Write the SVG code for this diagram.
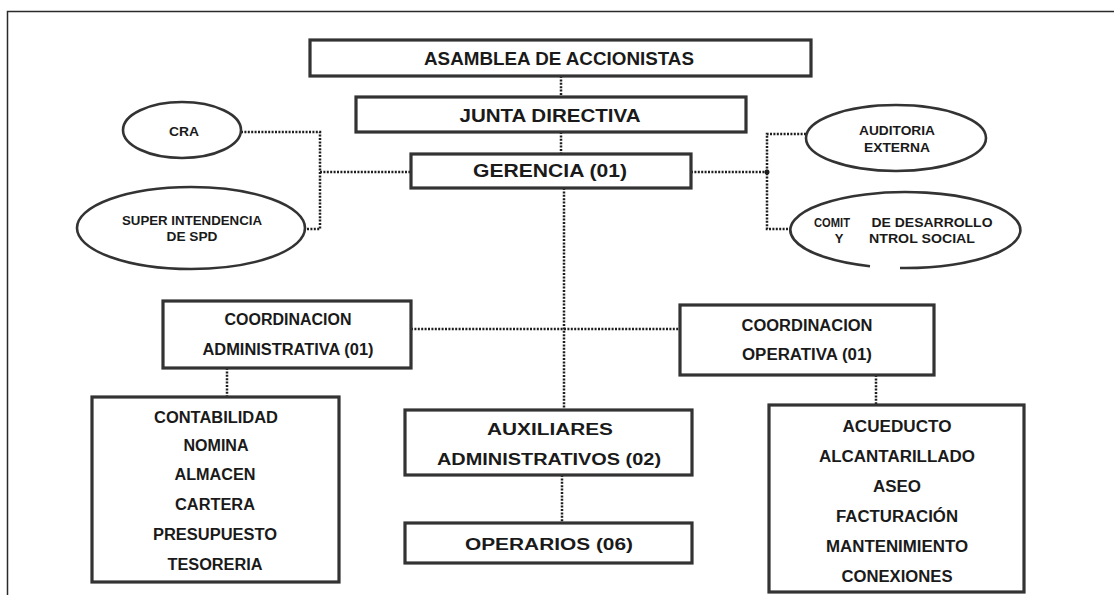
<svg xmlns="http://www.w3.org/2000/svg" width="1114" height="595" viewBox="0 0 1114 595">
<style>
.box{fill:none;stroke:#333333;stroke-width:3.2}
.ell{fill:none;stroke:#333333;stroke-width:2.6}
.con{fill:none;stroke:#1e1e1e;stroke-width:2.5;stroke-dasharray:2 1.4}
.t{font-family:"Liberation Sans",Arial,sans-serif;font-weight:bold;fill:#1a1a1a;text-anchor:middle}
.l{font-size:18px}
.m{font-size:16px}
.s{font-size:13px}
</style>
<rect width="1114" height="595" fill="#ffffff"/>
<path d="M7.5 595 V11.5 H1114" fill="none" stroke="#2a2a2a" stroke-width="1.5"/>
<g id="connectors">
<path class="con" d="M561 76 V97"/>
<path class="con" d="M561 132 V154"/>
<path class="con" d="M564 188 V410"/>
<path class="con" d="M562 475 V523"/>
<path class="con" d="M241 132 H320 V229 H305"/>
<path class="con" d="M320 172 H411"/>
<path class="con" d="M691 172 H767"/>
<path class="con" d="M806 134 H767 V229 H790"/>
<circle cx="767" cy="172" r="2.5" fill="#1e1e1e"/>
<path class="con" d="M411 329 H680"/>
<path class="con" d="M227 368 V397"/>
<path class="con" d="M876 375 V405"/>
</g>
<g id="asamblea">
<rect class="box" x="310" y="40" width="501" height="36"/>
<text class="t l" x="559" y="65" textLength="270" lengthAdjust="spacingAndGlyphs">ASAMBLEA DE ACCIONISTAS</text>
</g>
<g id="junta">
<rect class="box" x="356" y="97" width="390" height="35"/>
<text class="t l" x="550" y="122" textLength="181" lengthAdjust="spacingAndGlyphs">JUNTA DIRECTIVA</text>
</g>
<g id="gerencia">
<rect class="box" x="411" y="154" width="280" height="34"/>
<text class="t l" x="550" y="177" textLength="154" lengthAdjust="spacingAndGlyphs">GERENCIA (01)</text>
</g>
<g id="cra">
<ellipse class="ell" cx="182" cy="130" rx="59" ry="28"/>
<text class="t s" x="184" y="136" textLength="30" lengthAdjust="spacingAndGlyphs">CRA</text>
</g>
<g id="superintendencia">
<ellipse class="ell" cx="191" cy="228" rx="114" ry="41"/>
<text class="t s" x="192" y="225" textLength="140" lengthAdjust="spacingAndGlyphs">SUPER INTENDENCIA</text>
<text class="t s" x="192" y="241" textLength="51" lengthAdjust="spacingAndGlyphs">DE SPD</text>
</g>
<g id="auditoria">
<ellipse class="ell" cx="896" cy="138" rx="90" ry="33"/>
<text class="t s" x="897" y="135" textLength="76" lengthAdjust="spacingAndGlyphs">AUDITORIA</text>
<text class="t s" x="897" y="152" textLength="66" lengthAdjust="spacingAndGlyphs">EXTERNA</text>
</g>
<g id="comite">
<path class="ell" d="M870 266.2 A115 38 0 1 1 900 268"/>
<text class="t s" x="832" y="227" textLength="36" lengthAdjust="spacingAndGlyphs">COMIT</text>
<text class="t s" x="932" y="227" textLength="121" lengthAdjust="spacingAndGlyphs">DE DESARROLLO</text>
<text class="t s" x="839" y="243">Y</text>
<text class="t s" x="922" y="243" textLength="106" lengthAdjust="spacingAndGlyphs">NTROL SOCIAL</text>
</g>
<g id="coord-admin">
<rect class="box" x="163" y="301" width="248" height="67"/>
<text class="t m" x="288" y="325" textLength="127" lengthAdjust="spacingAndGlyphs">COORDINACION</text>
<text class="t m" x="288" y="355" textLength="171" lengthAdjust="spacingAndGlyphs">ADMINISTRATIVA (01)</text>
</g>
<g id="coord-op">
<rect class="box" x="680" y="305" width="254" height="70"/>
<text class="t m" x="807" y="331" textLength="131" lengthAdjust="spacingAndGlyphs">COORDINACION</text>
<text class="t m" x="807" y="360" textLength="130" lengthAdjust="spacingAndGlyphs">OPERATIVA (01)</text>
</g>
<g id="admin-areas">
<rect class="box" x="92" y="397" width="247" height="185"/>
<text class="t m" x="216" y="423" textLength="124" lengthAdjust="spacingAndGlyphs">CONTABILIDAD</text>
<text class="t m" x="216" y="451" textLength="65" lengthAdjust="spacingAndGlyphs">NOMINA</text>
<text class="t m" x="215" y="480" textLength="81" lengthAdjust="spacingAndGlyphs">ALMACEN</text>
<text class="t m" x="215" y="510" textLength="80" lengthAdjust="spacingAndGlyphs">CARTERA</text>
<text class="t m" x="215" y="540" textLength="124" lengthAdjust="spacingAndGlyphs">PRESUPUESTO</text>
<text class="t m" x="215" y="570" textLength="95" lengthAdjust="spacingAndGlyphs">TESORERIA</text>
</g>
<g id="auxiliares">
<rect class="box" x="405" y="410" width="287" height="65"/>
<text class="t m" x="550" y="435" textLength="126" lengthAdjust="spacingAndGlyphs">AUXILIARES</text>
<text class="t m" x="549" y="465" textLength="224" lengthAdjust="spacingAndGlyphs">ADMINISTRATIVOS (02)</text>
</g>
<g id="operarios">
<rect class="box" x="405" y="523" width="287" height="40"/>
<text class="t m" x="549" y="550" textLength="168" lengthAdjust="spacingAndGlyphs">OPERARIOS (06)</text>
</g>
<g id="op-areas">
<rect class="box" x="769" y="405" width="255" height="187"/>
<text class="t m" x="897" y="432" textLength="109" lengthAdjust="spacingAndGlyphs">ACUEDUCTO</text>
<text class="t m" x="897" y="462" textLength="156" lengthAdjust="spacingAndGlyphs">ALCANTARILLADO</text>
<text class="t m" x="897" y="492" textLength="48" lengthAdjust="spacingAndGlyphs">ASEO</text>
<text class="t m" x="897" y="522" textLength="122" lengthAdjust="spacingAndGlyphs">FACTURACIÓN</text>
<text class="t m" x="897" y="552" textLength="142" lengthAdjust="spacingAndGlyphs">MANTENIMIENTO</text>
<text class="t m" x="897" y="582" textLength="111" lengthAdjust="spacingAndGlyphs">CONEXIONES</text>
</g>
</svg>
